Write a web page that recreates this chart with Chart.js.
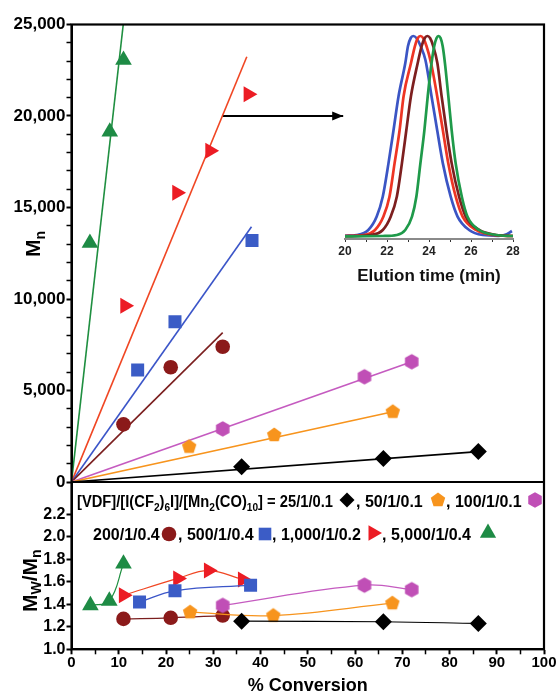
<!DOCTYPE html>
<html><head><meta charset="utf-8">
<script src="https://cdn.jsdelivr.net/npm/chart.js@4.4.0/dist/chart.umd.min.js"></script>
<style>
html,body{margin:0;padding:0;background:#fff;}
#wrap{position:relative;width:559px;height:693px;overflow:hidden;background:#fff;}
#main{position:absolute;left:0;top:0;}
#inset{position:absolute;left:335px;top:30px;}
</style></head><body>
<div id="wrap"><canvas id="main" width="559" height="693"></canvas><canvas id="inset" width="188" height="260"></canvas></div>
<script>
// ---------------- DATA ----------------
// Top panel: Mn vs % conversion
const conv25   = [36.0, 66.0, 86.1];        const mn25   = [840, 1290, 1660];
const conv50   = [24.9, 42.9, 68.0];        const mn50   = [1930, 2570, 3840];
const conv100  = [32.0, 62.0, 72.0];        const mn100  = [2900, 5750, 6570];
const conv200  = [11.0, 21.0, 32.0];        const mn200  = [3150, 6270, 7390];
const conv500  = [14.0, 21.9, 38.2];        const mn500  = [6120, 8760, 13200];
const conv1000 = [11.3, 22.3, 29.3, 37.4];  const mn1000 = [9630, 15810, 18100, 21190];
const conv5000 = [3.9, 8.1, 11.0];          const mn5000 = [13060, 19140, 23060];
// straight fits through the origin: end points (same order as series)
const fitEndConv = [86.1, 68.0, 72.0, 32.0, 38.1, 37.1, 10.95];
const fitEndMn   = [1660, 3840, 6570, 8160, 13950, 23240, 25000];
// arrow pointing to the inset
const arrowConv = [31.9, 57.5];
const arrowMn   = [20000, 20000];
// Bottom panel: Mw/Mn vs % conversion
const pdiConv25   = [36.0, 66.0, 86.1];       const pdi25   = [1.25, 1.245, 1.23];
const pdiConv50   = [25.1, 42.7, 67.9];       const pdi50   = [1.33, 1.30, 1.41];
const pdiConv100  = [32.0, 62.0, 72.0];       const pdi100  = [1.39, 1.57, 1.53];
const pdiConv200  = [11.0, 21.0, 32.0];       const pdi200  = [1.27, 1.28, 1.30];
const pdiConv500  = [14.4, 21.9, 37.9];       const pdi500  = [1.42, 1.52, 1.57];
const pdiConv1000 = [11.0, 22.5, 29.0, 36.2]; const pdi1000 = [1.48, 1.63, 1.70, 1.62];
const pdiConv5000 = [4.0, 8.0, 11.0];         const pdi5000 = [1.39, 1.43, 1.76];
// Inset: GPC traces (normalised detector signal vs elution time, min)
const gpcTimeBlue   = [20.0, 20.55, 21.11, 21.51, 21.80, 22.07, 22.31, 22.55, 22.87, 23.0, 23.13, 23.25, 23.4, 23.6, 23.83, 24.12, 24.39, 24.66, 25.03, 25.36, 25.91, 26.56, 27.3, 27.7, 27.95];
const gpcSignalBlue = [0.004, 0.008, 0.033, 0.10, 0.20, 0.365, 0.53, 0.70, 0.864, 0.95, 0.99, 1.0, 0.99, 0.95, 0.88, 0.70, 0.53, 0.365, 0.20, 0.10, 0.033, 0.008, 0.004, 0.012, 0.028];
const gpcTimeRed    = [20.0, 20.9, 21.43, 21.83, 22.12, 22.36, 22.60, 22.79, 23.14, 23.33, 23.47, 23.59, 23.72, 23.88, 24.1, 24.39, 24.66, 24.92, 25.27, 25.60, 26.24, 27.04, 28.0];
const gpcSignalRed  = [0.003, 0.008, 0.033, 0.10, 0.20, 0.365, 0.53, 0.70, 0.864, 0.95, 0.99, 1.0, 0.99, 0.95, 0.864, 0.70, 0.53, 0.365, 0.20, 0.10, 0.033, 0.008, 0.003];
const gpcTimeBrown  = [20.0, 21.2, 21.80, 22.18, 22.47, 22.71, 22.92, 23.14, 23.46, 23.65, 23.80, 23.92, 24.05, 24.20, 24.40, 24.60, 24.83, 25.08, 25.43, 25.75, 26.39, 27.2, 28.0];
const gpcSignalBrown= [0.002, 0.008, 0.033, 0.10, 0.20, 0.365, 0.53, 0.70, 0.864, 0.95, 0.99, 1.0, 0.99, 0.95, 0.864, 0.70, 0.53, 0.365, 0.20, 0.10, 0.033, 0.008, 0.003];
const gpcTimeGreen  = [20.0, 21.8, 22.47, 22.87, 23.19, 23.40, 23.59, 23.78, 23.94, 24.12, 24.25, 24.36, 24.45, 24.55, 24.65, 24.76, 24.92, 25.08, 25.27, 25.56, 25.83, 26.39, 27.2, 28.0];
const gpcSignalGreen= [0.001, 0.003, 0.008, 0.033, 0.10, 0.20, 0.365, 0.53, 0.70, 0.864, 0.95, 0.99, 1.0, 0.99, 0.95, 0.864, 0.70, 0.53, 0.365, 0.20, 0.10, 0.033, 0.008, 0.003];
// Legend / tick text
const seriesLabels = ['25/1/0.1', '50/1/0.1', '100/1/0.1', '200/1/0.4', '500/1/0.4', '1,000/1/0.2', '5,000/1/0.4'];
const topTickLabels = ['0', '5,000', '10,000', '15,000', '20,000', '25,000'];

// ---------------- STYLE ----------------
const FONT = "'Liberation Sans', Arial, Helvetica, sans-serif";
Chart.defaults.font.family = FONT;
Chart.defaults.color = '#000';

function polyCanvas(n, r, color) {
  const s = Math.ceil(2 * r + 2);
  const c = document.createElement('canvas'); c.width = s; c.height = s;
  const g = c.getContext('2d'); g.fillStyle = color; g.beginPath();
  for (let i = 0; i < n; i++) {
    const a = i * 2 * Math.PI / n;
    const px = s / 2 + r * Math.sin(a), py = s / 2 - r * Math.cos(a);
    if (i) g.lineTo(px, py); else g.moveTo(px, py);
  }
  g.closePath(); g.fill();
  return c;
}
const markColor = ['#000000', '#f7941d', '#c04fb6', '#8b1a1a', '#3b5cc6', '#ec1c24', '#1e8b45'];
const lineColor = ['#000000', '#f7941d', '#c55bc0', '#7b1f1f', '#3b55c8', '#f04623', '#1f8f40'];
const pentImg = polyCanvas(5, 7.6, markColor[1]);
const hexImg = polyCanvas(6, 7.8, markColor[2]);
const pStyle = ['rectRot', pentImg, hexImg, 'circle', 'rect', 'triangle', 'triangle'];
const pRot = [0, 0, 0, 0, 0, 90, 0];
const pRad = [8.5, 8, 8, 7.3, 9.2, 9.2, 9.6];

function zip(xs, ys) { return xs.map((x, i) => ({x: x, y: ys[i]})); }

const topX = [conv25, conv50, conv100, conv200, conv500, conv1000, conv5000];
const topY = [mn25, mn50, mn100, mn200, mn500, mn1000, mn5000];
const botX = [pdiConv25, pdiConv50, pdiConv100, pdiConv200, pdiConv500, pdiConv1000, pdiConv5000];
const botY = [pdi25, pdi50, pdi100, pdi200, pdi500, pdi1000, pdi5000];

const datasets = [];
for (let i = 0; i < 7; i++) {
  datasets.push({
    data: zip(topX[i], topY[i]), yAxisID: 'y1', showLine: false, order: 0,
    pointStyle: pStyle[i], rotation: pRot[i], pointRadius: pRad[i],
    pointBackgroundColor: markColor[i], pointBorderWidth: 0, pointBorderColor: markColor[i]
  });
}
for (let i = 0; i < 7; i++) {
  datasets.push({
    data: zip([0, fitEndConv[i]], [0, fitEndMn[i]]), yAxisID: 'y1', showLine: true, order: 1,
    borderColor: lineColor[i], borderWidth: 1.6, pointRadius: 0
  });
}
datasets.push({
  isArrow: true, data: zip(arrowConv, arrowMn), yAxisID: 'y1', showLine: true, order: 1,
  borderColor: '#000', borderWidth: 1.8, pointRadius: 0
});
for (let i = 0; i < 7; i++) {
  datasets.push({
    data: zip(botX[i], botY[i]), yAxisID: 'y2', showLine: true, order: 0, tension: 0.4,
    borderColor: lineColor[i], borderWidth: 1.2,
    pointStyle: pStyle[i], rotation: pRot[i], pointRadius: pRad[i],
    pointBackgroundColor: markColor[i], pointBorderWidth: 0, pointBorderColor: markColor[i]
  });
}

// ---------------- DRAW HELPERS ----------------
function drawRich(ctx, segs, x, y, size, subSize, subDy, maxW) {
  let w = 0;
  segs.forEach(s => { ctx.font = 'bold ' + (s[1] ? subSize : size) + 'px ' + FONT; w += ctx.measureText(s[0]).width; });
  const sc = maxW ? Math.min(1, maxW / w) : 1;
  ctx.save(); ctx.translate(x, y); ctx.scale(sc, 1);
  let cx = 0;
  segs.forEach(s => {
    ctx.font = 'bold ' + (s[1] ? subSize : size) + 'px ' + FONT;
    ctx.fillText(s[0], cx, s[1] ? subDy : 0);
    cx += ctx.measureText(s[0]).width;
  });
  ctx.restore();
  return w * sc;
}
function drawMarker(ctx, i, x, y) {
  ctx.save(); ctx.fillStyle = markColor[i]; ctx.beginPath();
  if (i === 0) { const r = 7.5; ctx.moveTo(x, y - r); ctx.lineTo(x + r, y); ctx.lineTo(x, y + r); ctx.lineTo(x - r, y); }
  else if (i === 1 || i === 2) { const img = i === 1 ? pentImg : hexImg; ctx.drawImage(img, x - img.width / 2, y - img.height / 2); ctx.restore(); return; }
  else if (i === 3) { ctx.arc(x, y, 7.3, 0, Math.PI * 2); }
  else if (i === 4) { ctx.rect(x - 6.3, y - 6.3, 12.6, 12.6); }
  else if (i === 5) { const r = 9; ctx.moveTo(x + r, y); ctx.lineTo(x - r / 2, y - r * 0.866); ctx.lineTo(x - r / 2, y + r * 0.866); }
  else { const r = 9.4; ctx.moveTo(x, y - r); ctx.lineTo(x + r * 0.866, y + r / 2); ctx.lineTo(x - r * 0.866, y + r / 2); }
  ctx.closePath(); ctx.fill(); ctx.restore();
}
function txt(ctx, s, x, y) { ctx.font = 'bold 16px ' + FONT; ctx.fillText(s, x, y); }

const decor = {
  id: 'decor',
  afterDraw(chart) {
    const {ctx, chartArea: a, scales} = chart;
    ctx.save();
    // frame and panel divider
    ctx.strokeStyle = '#000'; ctx.lineWidth = 2.2;
    ctx.strokeRect(a.left, a.top, a.right - a.left, a.bottom - a.top);
    const yd = scales.y1.getPixelForValue(0);
    ctx.beginPath(); ctx.moveTo(a.left, yd); ctx.lineTo(a.right, yd); ctx.stroke();
    // arrow head
    chart.data.datasets.forEach((ds, di) => {
      if (!ds.isArrow) return;
      const pts = chart.getDatasetMeta(di).data;
      const p = pts[pts.length - 1];
      ctx.fillStyle = '#000'; ctx.beginPath();
      ctx.moveTo(p.x, p.y); ctx.lineTo(p.x - 11, p.y - 4.5); ctx.lineTo(p.x - 11, p.y + 4.5); ctx.closePath(); ctx.fill();
    });
    ctx.fillStyle = '#000'; ctx.textAlign = 'left'; ctx.textBaseline = 'alphabetic';
    // y titles
    ctx.save(); ctx.translate(40, 257); ctx.rotate(-Math.PI / 2);
    drawRich(ctx, [['M', 0], ['n', 1]], 0, 0, 21, 14, 5);
    ctx.restore();
    ctx.save(); ctx.translate(37, 612); ctx.rotate(-Math.PI / 2);
    drawRich(ctx, [['M', 0], ['W', 1], ['/', 0], ['M', 0], ['n', 1]], 0, 0, 21, 14, 4);
    ctx.restore();
    // legend
    drawRich(ctx, [['[VDF]/[I(CF', 0], ['2', 1], [')', 0], ['6', 1], ['I]/[Mn', 0], ['2', 1], ['(CO)', 0], ['10', 1], ['] = ' + seriesLabels[0], 0]], 77, 507, 16, 11, 4, 256);
    drawMarker(ctx, 0, 347, 500);
    txt(ctx, ', ' + seriesLabels[1], 356, 507); drawMarker(ctx, 1, 438, 500);
    txt(ctx, ', ' + seriesLabels[2], 446, 507); drawMarker(ctx, 2, 535, 500);
    txt(ctx, seriesLabels[3], 93, 540); drawMarker(ctx, 3, 169, 534);
    txt(ctx, ', ' + seriesLabels[4], 178, 540); drawMarker(ctx, 4, 265, 534);
    txt(ctx, ', ' + seriesLabels[5], 272, 540); drawMarker(ctx, 5, 373, 533);
    txt(ctx, ', ' + seriesLabels[6], 382, 540); drawMarker(ctx, 6, 488, 533);
    ctx.restore();
  }
};

new Chart(document.getElementById('main'), {
  type: 'scatter',
  data: {datasets: datasets},
  options: {
    responsive: false, animation: false, events: [],
    layout: {padding: {left: 12.5, right: 15, top: 24.5, bottom: 0}},
    plugins: {legend: {display: false}, tooltip: {enabled: false}},
    scales: {
      x: {
        type: 'linear', position: 'bottom', min: 0, max: 100,
        border: {color: '#000', width: 2},
        grid: {drawOnChartArea: false, tickLength: 5, tickColor: '#000', tickWidth: c => (c.tick && c.tick.value % 10 === 0) ? 2 : 1.5},
        ticks: {stepSize: 5, autoSkip: false, maxRotation: 0, padding: 0, color: '#000', font: {size: 15, weight: 'bold'},
          callback: v => v % 10 === 0 ? String(v) : ''},
        title: {display: true, text: '% Conversion', color: '#000', font: {size: 18, weight: 'bold'}, padding: {top: 0, bottom: -4}},
        afterFit(s) { s.height = 43.7; }
      },
      y2: {
        type: 'linear', position: 'left', stack: 'v', stackWeight: 167.3, min: 1.0, max: 2.487,
        border: {color: '#000', width: 2},
        grid: {drawOnChartArea: false, tickLength: 5, tickWidth: 2, tickColor: c => (c.tick && c.tick.value > 2.3) ? 'rgba(0,0,0,0)' : '#000'},
        ticks: {stepSize: 0.2, includeBounds: false, autoSkip: false, padding: 1, color: '#000', font: {size: 16, weight: 'bold'},
          callback: v => v > 2.3 ? '' : v.toFixed(1)},
        afterFit(s) { s.width = 59; }
      },
      y1: {
        type: 'linear', position: 'left', stack: 'v', stackWeight: 457.5, min: 0, max: 25000,
        border: {color: '#000', width: 2},
        grid: {drawOnChartArea: false, tickLength: 5, tickColor: '#000', tickWidth: c => (c.tick && c.tick.value % 5000 === 0) ? 2 : 1.5},
        ticks: {stepSize: 1000, autoSkip: false, padding: 1, color: '#000', font: {size: 17, weight: 'bold'},
          callback: v => v % 5000 === 0 ? topTickLabels[v / 5000] : ''},
        afterFit(s) { s.width = 59; }
      }
    }
  },
  plugins: [decor]
});

// ---------------- INSET ----------------
const gpcSets = [
  [gpcTimeBlue, gpcSignalBlue, '#3b55c4'],
  [gpcTimeRed, gpcSignalRed, '#ee3524'],
  [gpcTimeBrown, gpcSignalBrown, '#7d1f1f'],
  [gpcTimeGreen, gpcSignalGreen, '#1f9a4a']
];
new Chart(document.getElementById('inset'), {
  type: 'scatter',
  data: {datasets: gpcSets.map((g, i) => ({
    data: zip(g[0], g[1]), showLine: true, borderColor: g[2], borderWidth: 2.7, pointRadius: 0,
    cubicInterpolationMode: 'monotone', clip: false, order: 3 - i
  }))},
  options: {
    responsive: false, animation: false, events: [],
    layout: {padding: {left: 10, right: 10, top: 6, bottom: 0}},
    plugins: {legend: {display: false}, tooltip: {enabled: false}},
    scales: {
      x: {
        type: 'linear', min: 20, max: 28,
        border: {color: '#8a8a8a', width: 2},
        grid: {drawOnChartArea: false, tickLength: 3, tickColor: '#333', tickWidth: 1},
        ticks: {stepSize: 1, autoSkip: false, maxRotation: 0, padding: 2, color: '#222', font: {size: 12, weight: 'bold'},
          callback: v => v % 2 === 0 ? String(v) : ''},
        title: {display: true, text: 'Elution time (min)', color: '#111', font: {size: 17, weight: 'bold'}, padding: {top: 0, bottom: 3}},
        afterFit(s) { s.height = 51; }
      },
      y: {display: false, min: -0.012, max: 1.0}
    }
  }
});
</script></body></html>
